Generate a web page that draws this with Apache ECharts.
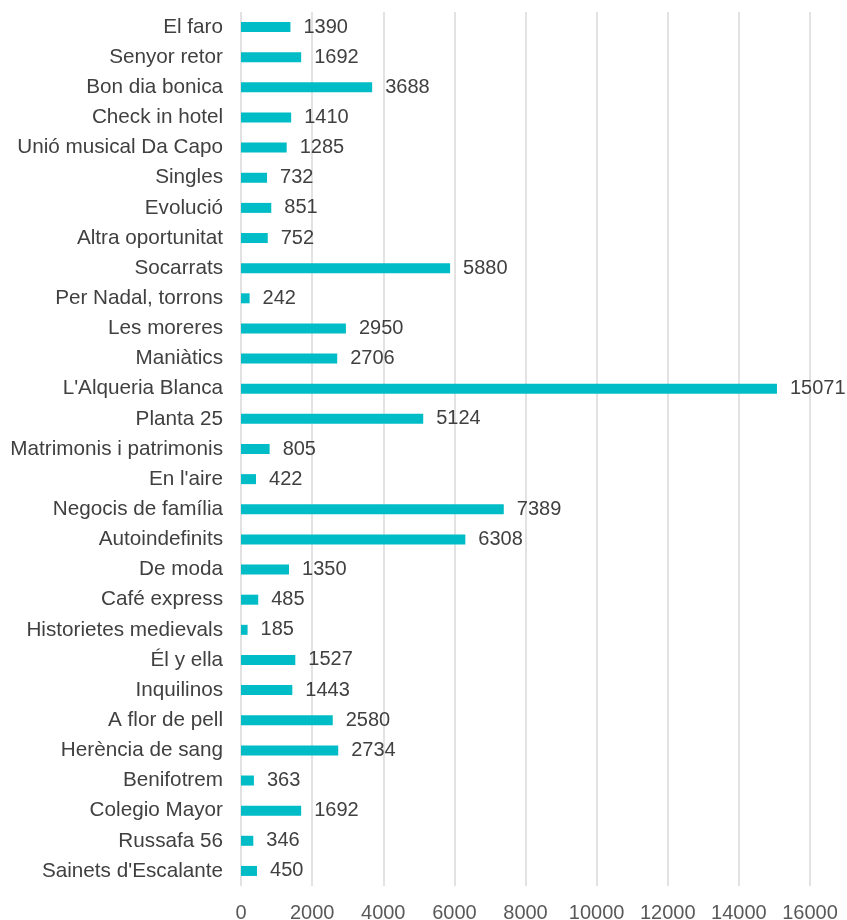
<!DOCTYPE html>
<html>
<head>
<meta charset="utf-8">
<script src="https://cdn.jsdelivr.net/npm/echarts@6/dist/echarts.min.js"></script>
<style>
  html, body { margin: 0; padding: 0; background: #fff; }
  #chart { width: 847px; height: 920px; }
</style>
</head>
<body>
<div id="chart"></div>
<script>
const titles = [
  'El faro', 'Senyor retor', 'Bon dia bonica', 'Check in hotel', 'Unió musical Da Capo',
  'Singles', 'Evolució', 'Altra oportunitat', 'Socarrats', 'Per Nadal, torrons',
  'Les moreres', 'Maniàtics', "L'Alqueria Blanca", 'Planta 25', 'Matrimonis i patrimonis',
  "En l'aire", 'Negocis de família', 'Autoindefinits', 'De moda', 'Café express',
  'Historietes medievals', 'Él y ella', 'Inquilinos', 'A flor de pell', 'Herència de sang',
  'Benifotrem', 'Colegio Mayor', 'Russafa 56', "Sainets d'Escalante"
];
const counts = [
  1390, 1692, 3688, 1410, 1285,
  732, 851, 752, 5880, 242,
  2950, 2706, 15071, 5124, 805,
  422, 7389, 6308, 1350, 485,
  185, 1527, 1443, 2580, 2734,
  363, 1692, 346, 450
];
const xTicks = { min: 0, max: 16000, interval: 2000 };

const chart = echarts.init(document.getElementById('chart'));
const font = 'Liberation Sans, Arial, sans-serif';

chart.setOption({
  animation: false,
  grid: { left: 241, right: 37, top: 12, bottom: 34, outerBoundsMode: 'none', containLabel: false },
  xAxis: {
    type: 'value',
    min: xTicks.min,
    max: xTicks.max,
    interval: xTicks.interval,
    axisLine: { show: false },
    axisTick: { show: false },
    axisLabel: {
      color: '#595959', fontSize: 20, fontFamily: font, margin: 17,
      formatter: v => String(v)
    },
    splitLine: { lineStyle: { color: '#d9d9d9', width: 1.5 } }
  },
  yAxis: {
    type: 'category',
    inverse: true,
    data: titles,
    axisLine: { show: false },
    axisTick: { show: false },
    axisLabel: { color: '#404040', fontSize: 20.7, fontFamily: font, margin: 18 }
  },
  series: [{
    type: 'bar',
    data: counts,
    barWidth: 10,
    itemStyle: { color: '#00BCC6' },
    label: {
      show: true,
      position: 'right',
      distance: 13,
      color: '#404040',
      fontSize: 20,
      fontFamily: font
    }
  }]
});
</script>
</body>
</html>
